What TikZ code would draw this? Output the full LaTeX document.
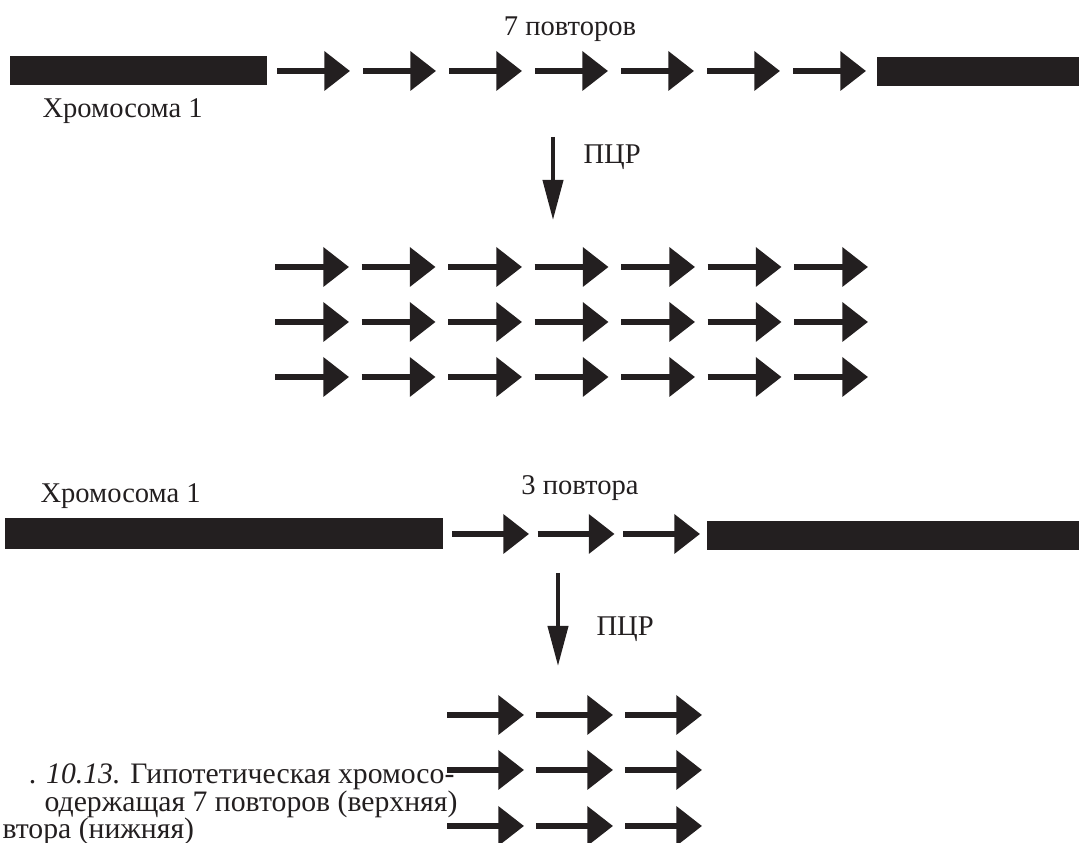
\documentclass[tikz,border=0pt]{standalone}
\usepackage{fontspec}
\setmainfont{Liberation Serif}
\usepackage{xcolor}
\usetikzlibrary{arrows.meta,positioning}
\definecolor{ink}{HTML}{231F20}

\begin{document}
\begin{tikzpicture}[x=0.35pt,y=-0.35pt,
  rpt/.style={ink,line width=1.9pt,-{Triangle[length=9pt,width=13.5pt]}},
  pcr/.style={ink,line width=1.4pt,-{Triangle[length=14pt,width=7pt]}},
  lab/.style={inner sep=0pt,text=ink,font=\fontsize{10}{12}\selectfont},
  captext/.style={inner sep=0pt,text=ink,text height=6pt,text depth=1pt,
    font=\fontsize{10.4}{13}\selectfont}]
\useasboundingbox (0,0) rectangle (1079,843);
\clip (0,0) rectangle (1079,843);

\fill [ink] (10,56) rectangle (267,85);
\fill [ink] (877,57) rectangle (1079,86);
\foreach\i in {0,...,6}
  \draw [rpt] (277+86*\i,71) -- ++(73,0);
\node [lab,anchor=base] (rep7) at (570,36) {7 повторов};
\node [lab,anchor=base west] (chr1) at (42,118) {Хромосома 1};
\coordinate (pcr1s) at (553,137);
\coordinate (pcr1e) at (553,220);
\draw [pcr] (pcr1s) -- (pcr1e);
\node [lab,anchor=base west] (pcr1) at (583,164) {ПЦР};
\foreach\r in {267,322,377}
  \foreach\i in {0,...,6}
    \draw [rpt] (275+86.5*\i,\r) -- ++(74,0);

\fill [ink] (5,518) rectangle (443,549);
\fill [ink] (707,521) rectangle (1079,550);
\foreach\i in {0,1,2}
  \draw [rpt] (452+85.5*\i,534) -- ++(77,0);
\node [lab,anchor=base] (rep3) at (580,495) {3 повтора};
\node [lab,anchor=base west] (chr2) at (40,503) {Хромосома 1};
\coordinate (pcr2s) at (558,573);
\coordinate (pcr2e) at (558,666);
\draw [pcr] (pcr2s) -- (pcr2e);
\node [lab,anchor=base west] (pcr2) at (596,636) {ПЦР};
\foreach\r in {715,770,826}
  \foreach\i in {0,1,2}
    \draw [rpt] (447+89*\i,\r) -- ++(77,0);

\node [captext,anchor=base east] (cap1) at (455,784) {. \textit{10.13.} Гипотетическая хромосо-};
\node [captext,anchor=base east] (cap2) at (458,812) {одержащая 7 повторов (верхняя)};
\node [captext,anchor=base west] (cap3) at (2,839) {втора (нижняя)};

\end{tikzpicture}
\end{document}
